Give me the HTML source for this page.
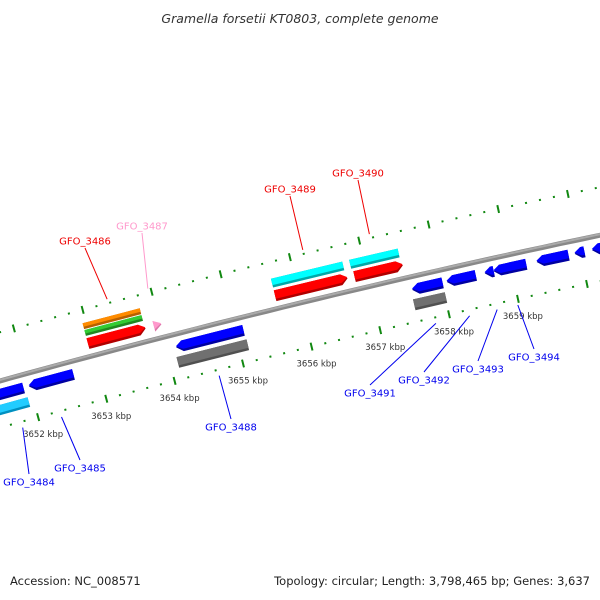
<!DOCTYPE html>
<html><head><meta charset="utf-8"><style>
html,body{margin:0;padding:0;background:#fff}
svg{display:block;font-family:"DejaVu Sans","Liberation Sans",sans-serif}
</style></head><body>
<svg id="map" width="600" height="600" viewBox="0 0 600 600" xmlns="http://www.w3.org/2000/svg">
<text x="300" y="23" text-anchor="middle" font-size="12.5" font-style="italic" fill="#333">Gramella forsetii KT0803, complete genome</text>
<g id="ticks"></g>
<g id="backbone"></g>
<g id="genes"></g>
<g id="labels"></g>
<text x="10" y="585" font-size="11.5" fill="#222">Accession: NC_008571</text>
<text x="590" y="585" text-anchor="end" font-size="11.5" fill="#222">Topology: circular; Length: 3,798,465 bp; Genes: 3,637</text>
</svg>
<script>
// data (kbp)
var geneNames = ["GFO_3484","GFO_3484b","GFO_3485","GFO_3486","GFO_3486g","GFO_3486o","GFO_3487","GFO_3488","GFO_3488g","GFO_3489","GFO_3489c","GFO_3490","GFO_3490c","GFO_3491","GFO_3491g","GFO_3492","GFO_3493","GFO_3494","GFO_3495","GFO_3496","GFO_3497"];
var geneStarts = [3651.2,3651.2,3651.99,3652.95,3652.95,3652.95,3653.91,3654.14,3654.11,3655.67,3655.67,3656.82,3656.80,3657.57,3657.55,3658.07,3658.62,3658.75,3659.37,3659.92,3660.17];
var geneEnds   = [3651.91,3651.93,3652.64,3653.79,3653.78,3653.78,3654.02,3655.12,3655.13,3656.72,3656.70,3657.52,3657.50,3658.01,3658.01,3658.49,3658.75,3659.22,3659.83,3660.06,3660.7];
var geneStrand = [-1,0,-1,1,0,0,1,-1,0,1,0,1,0,-1,0,-1,-1,-1,-1,-1,-1];
var geneRow    = ["blue","cyanLow","blue","red","green","orange","pink","blue","gray","red","cyan","red","cyan","blue","gray","blue","blue","blue","blue","blue","blue"];
var tickStart = 3651, tickEnd = 3661;
var tickLabelKbp = [3652,3653,3654,3655,3656,3657,3658,3659];
var labelText = ["GFO_3484","GFO_3485","GFO_3486","GFO_3487","GFO_3488","GFO_3489","GFO_3490","GFO_3491","GFO_3492","GFO_3493","GFO_3494"];
var labelGeneKbp = [3651.75,3652.32,3653.37,3653.96,3654.63,3656.2,3657.16,3657.79,3658.28,3658.68,3658.98];
var labelStrand = [-1,-1,1,1,-1,1,1,-1,-1,-1,-1];
var labelColor = ["#0000ee","#0000ee","#ee0000","#ff99cc","#0000ee","#ee0000","#ee0000","#0000ee","#0000ee","#0000ee","#0000ee"];
var labelX = [29,80,85,142,231,290,358,370,424,478,534];
var labelY = [482,468,241,226,427,189,173,393,380,369,357];

// axis (polar) functions
var CX=2599, CY=9773, RB=9745, dPhi=70.6/9700;
function phi(k){return -0.2417+(k-3655.5)*dPhi;}
function pt(k,r){var a=phi(k);return [CX+r*Math.sin(a), CY-r*Math.cos(a)];}
var NS="http://www.w3.org/2000/svg";
function mk(tag,parent,attrs){var e=document.createElementNS(NS,tag);for(var a in attrs)e.setAttribute(a,attrs[a]);parent.appendChild(e);return e;}
var rows={red:{off:13,h:11,c:"#ff0000",d:"#b00000"},cyan:{off:26,h:9,c:"#00ffff",d:"#00a8a8"},green:{off:24,h:6,c:"#33cc33",d:"#208820"},orange:{off:31,h:6,c:"#ff8c00",d:"#b86000"},pink:{off:13,h:11,c:"#ff99cc",d:"#dd77aa"},blue:{off:-13,h:11,c:"#0000ff",d:"#0000a0"},gray:{off:-28,h:11,c:"#707070",d:"#505050"},cyanLow:{off:-28,h:10,c:"#22ccff",d:"#0090c0"}};

// ticks
var tg=document.getElementById('ticks');
[RB-45,RB+47].forEach(function(r,ti){
  for(var i=0;i<=(tickEnd-tickStart)*5;i++){
    var k=tickStart+i*0.2, major=(i%5===0);
    var hl=major?4:1;
    var a=pt(k,r-hl), b=pt(k,r+hl);
    var ln=mk('line',tg,{x1:a[0],y1:a[1],x2:b[0],y2:b[1],stroke:"#118811","stroke-width":2});
    
    
  }
});
tickLabelKbp.forEach(function(k){
  var p=pt(k,RB-45);
  var t=mk('text',tg,{x:p[0]+5,y:p[1]+20,"text-anchor":"middle","font-size":"8.5",fill:"#333"});
  t.textContent=k+" kbp";
  
  
});

// backbone
var bg=document.getElementById('backbone');
function arcPath(r){var s="";for(var k=3650.5;k<=3661.5;k+=0.25){var p=pt(k,r);s+=(s?"L":"M")+p[0].toFixed(1)+","+p[1].toFixed(1);}return s;}
var bb=mk('path',bg,{d:arcPath(RB),stroke:"#888",fill:"none","stroke-width":5});


var bb2=mk('path',bg,{d:arcPath(RB+1),stroke:"#aaa",fill:"none","stroke-width":2});



// genes
var gg=document.getElementById('genes');
var head=6.5/70.6;
function shape(s,e,strand,rin,rout){
  var rm=(rin+rout)/2, len=e-s, pts=[];
  if(strand===1){
    var hb=Math.max(s,e-head);
    if(len<=head*1.3){pts=[pt(s,rin),pt(s,rout),pt(e,rm)];}
    else pts=[pt(s,rin),pt(s,rout),pt(hb,rout),pt(e,rm),pt(hb,rin)];
  }else if(strand===-1){
    var ha=Math.min(e,s+head);
    if(len<=head*1.3){pts=[pt(s,rm),pt(e,rout),pt(e,rin)];}
    else pts=[pt(s,rm),pt(ha,rout),pt(e,rout),pt(e,rin),pt(ha,rin)];
  }else pts=[pt(s,rin),pt(s,rout),pt(e,rout),pt(e,rin)];
  return pts.map(function(p){return p[0].toFixed(1)+","+p[1].toFixed(1);}).join(" ");
}
for(var i=0;i<geneNames.length;i++){
  var row=rows[geneRow[i]], rout=RB+row.off+row.h/2, rin=RB+row.off-row.h/2;
  var d=mk('polygon',gg,{points:shape(geneStarts[i],geneEnds[i],geneStrand[i],rin,rout),fill:row.d});
  
  
  var l=mk('polygon',gg,{points:shape(geneStarts[i],geneEnds[i],geneStrand[i],rin+2.5,rout),fill:row.c});
  
  
}

// labels
var lg=document.getElementById('labels');
for(var j=0;j<labelText.length;j++){
  var up=labelStrand[j]===1;
  var p=pt(labelGeneKbp[j], up?RB+51:RB-51);
  var ex=labelX[j], ey=up?labelY[j]+7:labelY[j]-8;
  var ln=mk('line',lg,{x1:p[0],y1:p[1],x2:ex,y2:ey,stroke:labelColor[j],"stroke-width":1});
  
  
  var t=mk('text',lg,{x:labelX[j],y:labelY[j]+3.5,"text-anchor":"middle","font-size":"10",fill:labelColor[j]});
  t.textContent=labelText[j];
  
  
}
</script>
</body></html>
